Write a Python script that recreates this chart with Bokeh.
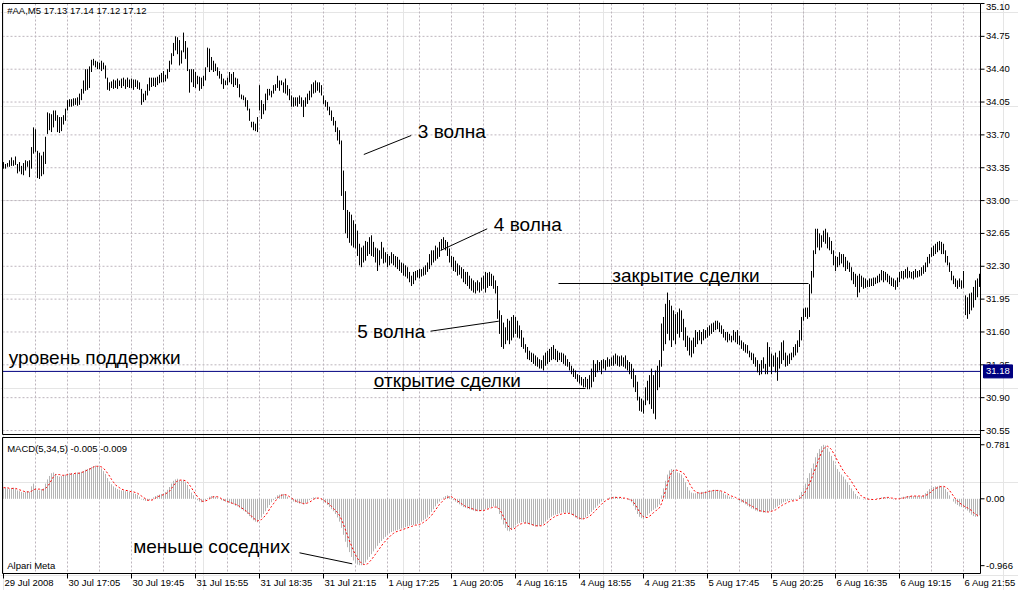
from bokeh.plotting import figure
from bokeh.models import Range1d, ColumnDataSource
from bokeh.core.properties import value
from bokeh.embed import file_html
from bokeh.resources import INLINE

# ---------------- data ----------------
HIGH = [
    33.41, 33.39, 33.40, 33.43, 33.46, 33.43, 33.47, 33.39, 33.41, 33.37,
    33.40, 33.43, 33.42, 33.43, 33.57, 33.78, 33.76, 33.53, 33.51, 33.48,
    33.52, 33.68, 33.94, 33.93, 33.92, 33.96, 33.96, 33.91, 33.89, 33.89,
    33.91, 33.98, 34.07, 34.08, 34.08, 34.09, 34.09, 34.10, 34.14, 34.19,
    34.28, 34.40, 34.40, 34.43, 34.50, 34.51, 34.49, 34.48, 34.47, 34.49,
    34.47, 34.44, 34.31, 34.26, 34.27, 34.29, 34.28, 34.30, 34.28, 34.30,
    34.31, 34.29, 34.31, 34.29, 34.30, 34.29, 34.29, 34.28, 34.26, 34.19,
    34.14, 34.17, 34.24, 34.31, 34.31, 34.31, 34.31, 34.32, 34.34, 34.36,
    34.38, 34.34, 34.40, 34.49, 34.57, 34.68, 34.75, 34.74, 34.71, 34.60,
    34.79, 34.70, 34.63, 34.40, 34.40, 34.40, 34.37, 34.33, 34.32, 34.31,
    34.33, 34.42, 34.63, 34.62, 34.53, 34.49, 34.46, 34.42, 34.38, 34.35,
    34.30, 34.28, 34.31, 34.37, 34.35, 34.37, 34.31, 34.30, 34.24, 34.13,
    34.12, 34.10, 34.07, 33.98, 33.84, 33.84, 33.82, 33.89, 34.23, 34.07,
    34.03, 34.14, 34.19, 34.19, 34.17, 34.23, 34.24, 34.33, 34.28, 34.28,
    34.26, 34.30, 34.23, 34.19, 34.12, 34.10, 34.10, 34.10, 34.12, 34.10,
    34.07, 34.10, 34.14, 34.17, 34.24, 34.26, 34.28, 34.26, 34.26, 34.23,
    34.12, 34.07, 34.05, 34.00, 33.96, 33.89, 33.85, 33.78, 33.75, 33.64,
    33.32, 33.10, 32.90, 32.88, 32.85, 32.79, 32.75, 32.68, 32.54, 32.50,
    32.52, 32.57, 32.56, 32.61, 32.63, 32.56, 32.50, 32.49, 32.47, 32.56,
    32.50, 32.45, 32.43, 32.41, 32.45, 32.43, 32.41, 32.40, 32.37, 32.34,
    32.33, 32.31, 32.29, 32.24, 32.20, 32.24, 32.25, 32.26, 32.27, 32.27,
    32.29, 32.31, 32.34, 32.43, 32.47, 32.47, 32.52, 32.50, 32.56, 32.59,
    32.61, 32.58, 32.56, 32.49, 32.41, 32.40, 32.36, 32.33, 32.31, 32.29,
    32.27, 32.24, 32.24, 32.20, 32.17, 32.15, 32.13, 32.15, 32.13, 32.18,
    32.20, 32.24, 32.23, 32.24, 32.22, 32.20, 32.15, 32.09, 31.83, 31.78,
    31.70, 31.65, 31.74, 31.72, 31.76, 31.78, 31.76, 31.72, 31.67, 31.62,
    31.54, 31.47, 31.44, 31.40, 31.38, 31.37, 31.35, 31.33, 31.31, 31.30,
    31.35, 31.38, 31.40, 31.42, 31.44, 31.46, 31.42, 31.40, 31.38, 31.38,
    31.37, 31.35, 31.31, 31.28, 31.24, 31.21, 31.19, 31.15, 31.14, 31.12,
    31.10, 31.12, 31.10, 31.14, 31.21, 31.30, 31.26, 31.30, 31.28, 31.30,
    31.31, 31.30, 31.33, 31.31, 31.33, 31.35, 31.37, 31.35, 31.34, 31.35,
    31.33, 31.35, 31.30, 31.28, 31.26, 31.21, 31.14, 31.07, 30.91, 30.89,
    30.87, 31.01, 31.08, 31.14, 31.21, 31.14, 31.19, 31.24, 31.30, 31.69,
    31.76, 31.90, 32.02, 31.94, 31.88, 31.83, 31.79, 31.81, 31.85, 31.83,
    31.74, 31.65, 31.56, 31.54, 31.51, 31.54, 31.62, 31.60, 31.62, 31.60,
    31.63, 31.62, 31.65, 31.67, 31.69, 31.70, 31.72, 31.72, 31.70, 31.67,
    31.63, 31.60, 31.60, 31.58, 31.56, 31.62, 31.60, 31.62, 31.56, 31.51,
    31.49, 31.47, 31.46, 31.40, 31.38, 31.37, 31.33, 31.30, 31.26, 31.30,
    31.33, 31.26, 31.49, 31.44, 31.37, 31.35, 31.38, 31.33, 31.40, 31.49,
    31.51, 31.38, 31.35, 31.37, 31.38, 31.44, 31.47, 31.51, 31.62, 31.76,
    31.85, 31.86, 31.86, 32.11, 32.25, 32.47, 32.70, 32.70, 32.65, 32.63,
    32.68, 32.70, 32.66, 32.61, 32.57, 32.47, 32.41, 32.40, 32.45, 32.43,
    32.43, 32.40, 32.36, 32.34, 32.29, 32.24, 32.22, 32.20, 32.22, 32.20,
    32.18, 32.17, 32.15, 32.17, 32.17, 32.18, 32.18, 32.20, 32.22, 32.26,
    32.25, 32.24, 32.22, 32.20, 32.18, 32.17, 32.15, 32.18, 32.24, 32.25,
    32.25, 32.27, 32.29, 32.25, 32.24, 32.25, 32.27, 32.25, 32.26, 32.29,
    32.31, 32.34, 32.40, 32.43, 32.50, 32.52, 32.54, 32.56, 32.57, 32.56,
    32.54, 32.47, 32.41, 32.34, 32.25, 32.20, 32.17, 32.15, 32.17, 32.15,
    32.25, 31.99, 31.97, 32.01, 32.02, 32.08, 32.15, 32.17, 32.22,
]

LOW = [
    33.34, 33.34, 33.36, 33.36, 33.37, 33.37, 33.38, 33.29, 33.31, 33.28,
    33.27, 33.32, 33.36, 33.25, 33.34, 33.50, 33.52, 33.24, 33.23, 33.26,
    33.28, 33.39, 33.71, 33.75, 33.73, 33.78, 33.85, 33.73, 33.72, 33.74,
    33.81, 33.85, 33.96, 34.00, 34.00, 34.01, 34.02, 34.01, 34.02, 34.07,
    34.14, 34.17, 34.18, 34.20, 34.37, 34.44, 34.42, 34.40, 34.40, 34.38,
    34.40, 34.30, 34.18, 34.17, 34.20, 34.19, 34.20, 34.19, 34.22, 34.20,
    34.22, 34.19, 34.21, 34.20, 34.20, 34.18, 34.21, 34.19, 34.18, 34.02,
    34.05, 34.07, 34.12, 34.17, 34.21, 34.22, 34.21, 34.23, 34.25, 34.26,
    34.26, 34.27, 34.30, 34.37, 34.45, 34.54, 34.60, 34.56, 34.44, 34.46,
    34.58, 34.51, 34.38, 34.15, 34.26, 34.21, 34.20, 34.24, 34.17, 34.19,
    34.22, 34.28, 34.42, 34.37, 34.39, 34.37, 34.38, 34.33, 34.30, 34.24,
    34.19, 34.23, 34.23, 34.26, 34.24, 34.21, 34.23, 34.20, 34.10, 34.08,
    34.07, 34.00, 33.96, 33.85, 33.78, 33.75, 33.74, 33.73, 33.96, 33.87,
    33.92, 33.96, 34.07, 34.12, 34.10, 34.14, 34.17, 34.20, 34.17, 34.23,
    34.15, 34.14, 34.12, 34.07, 34.00, 34.00, 34.01, 34.00, 34.03, 34.00,
    33.89, 34.00, 34.03, 34.07, 34.10, 34.14, 34.15, 34.17, 34.15, 34.12,
    34.03, 34.00, 33.96, 33.91, 33.85, 33.80, 33.73, 33.64, 33.60, 33.05,
    32.90, 32.65, 32.60, 32.55, 32.52, 32.50, 32.49, 32.41, 32.31, 32.29,
    32.34, 32.36, 32.41, 32.43, 32.41, 32.40, 32.34, 32.25, 32.31, 32.38,
    32.33, 32.34, 32.29, 32.31, 32.33, 32.31, 32.29, 32.27, 32.25, 32.23,
    32.20, 32.19, 32.17, 32.13, 32.09, 32.11, 32.15, 32.18, 32.17, 32.19,
    32.20, 32.21, 32.24, 32.27, 32.31, 32.34, 32.36, 32.38, 32.40, 32.47,
    32.49, 32.47, 32.41, 32.34, 32.29, 32.25, 32.24, 32.20, 32.21, 32.17,
    32.13, 32.11, 32.09, 32.06, 32.04, 32.02, 32.01, 32.04, 32.02, 32.04,
    32.06, 32.02, 32.07, 32.09, 32.09, 32.06, 32.01, 31.74, 31.58, 31.44,
    31.42, 31.47, 31.51, 31.47, 31.51, 31.54, 31.58, 31.54, 31.53, 31.44,
    31.42, 31.38, 31.31, 31.30, 31.28, 31.26, 31.24, 31.23, 31.21, 31.21,
    31.19, 31.24, 31.26, 31.28, 31.30, 31.31, 31.30, 31.28, 31.30, 31.28,
    31.26, 31.24, 31.23, 31.19, 31.15, 31.12, 31.10, 31.07, 31.05, 31.03,
    31.01, 31.01, 30.99, 30.99, 31.01, 31.07, 31.12, 31.17, 31.19, 31.15,
    31.21, 31.19, 31.23, 31.23, 31.24, 31.24, 31.26, 31.24, 31.23, 31.24,
    31.23, 31.21, 31.19, 31.15, 31.10, 31.01, 30.96, 30.87, 30.76, 30.75,
    30.73, 30.82, 30.87, 30.83, 30.78, 30.73, 30.67, 30.98, 31.01, 31.23,
    31.40, 31.47, 31.58, 31.51, 31.44, 31.51, 31.47, 31.58, 31.54, 31.60,
    31.51, 31.44, 31.40, 31.35, 31.33, 31.37, 31.44, 31.47, 31.51, 31.47,
    31.51, 31.53, 31.54, 31.56, 31.58, 31.60, 31.62, 31.63, 31.60, 31.58,
    31.54, 31.51, 31.49, 31.51, 31.49, 31.51, 31.49, 31.47, 31.46, 31.42,
    31.40, 31.38, 31.37, 31.33, 31.30, 31.26, 31.23, 31.17, 31.14, 31.15,
    31.21, 31.15, 31.15, 31.23, 31.15, 31.23, 31.17, 31.08, 31.21, 31.26,
    31.30, 31.23, 31.24, 31.26, 31.30, 31.33, 31.35, 31.38, 31.44, 31.51,
    31.72, 31.76, 31.74, 31.76, 32.01, 32.18, 32.43, 32.50, 32.47, 32.50,
    32.56, 32.54, 32.49, 32.47, 32.43, 32.31, 32.25, 32.29, 32.31, 32.33,
    32.29, 32.25, 32.27, 32.24, 32.15, 32.11, 32.08, 31.97, 32.02, 32.08,
    32.06, 32.07, 32.08, 32.08, 32.09, 32.09, 32.11, 32.12, 32.13, 32.15,
    32.13, 32.15, 32.13, 32.11, 32.09, 32.08, 32.05, 32.08, 32.13, 32.17,
    32.16, 32.18, 32.17, 32.18, 32.17, 32.16, 32.18, 32.18, 32.19, 32.20,
    32.22, 32.24, 32.29, 32.33, 32.40, 32.41, 32.43, 32.45, 32.47, 32.43,
    32.43, 32.34, 32.31, 32.24, 32.15, 32.11, 32.08, 32.06, 32.08, 32.06,
    32.07, 31.78, 31.74, 31.79, 31.83, 31.86, 31.94, 31.97, 32.08,
]

MACD_HIST = [
    0.15, 0.16, 0.15, 0.14, 0.15, 0.16, 0.14, 0.12, 0.11, 0.10,
    0.09, 0.10, 0.11, 0.10, 0.18, 0.22, 0.16, 0.13, 0.12, 0.14,
    0.15, 0.22, 0.28, 0.33, 0.37, 0.38, 0.36, 0.33, 0.32, 0.33,
    0.34, 0.35, 0.36, 0.37, 0.37, 0.36, 0.37, 0.38, 0.38, 0.39,
    0.40, 0.42, 0.43, 0.44, 0.46, 0.47, 0.48, 0.47, 0.46, 0.44,
    0.40, 0.36, 0.30, 0.25, 0.21, 0.18, 0.16, 0.14, 0.13, 0.12,
    0.12, 0.11, 0.11, 0.10, 0.09, 0.08, 0.07, 0.06, 0.03, -0.01,
    -0.02, -0.03, -0.03, -0.02, -0.01, 0.02, 0.04, 0.05, 0.06, 0.07,
    0.08, 0.10, 0.13, 0.17, 0.22, 0.26, 0.28, 0.29, 0.27, 0.26,
    0.27, 0.24, 0.20, 0.14, 0.09, 0.05, 0.01, -0.02, -0.04, -0.05,
    -0.04, -0.02, 0.01, 0.03, 0.04, 0.04, 0.03, 0.02, 0.00, -0.02,
    -0.03, -0.04, -0.05, -0.06, -0.07, -0.08, -0.10, -0.11, -0.13, -0.15,
    -0.17, -0.19, -0.22, -0.25, -0.28, -0.31, -0.33, -0.34, -0.30, -0.27,
    -0.22, -0.18, -0.13, -0.09, -0.05, -0.02, 0.02, 0.05, 0.06, 0.07,
    0.07, 0.06, 0.03, 0.00, -0.02, -0.04, -0.05, -0.06, -0.07, -0.07,
    -0.08, -0.07, -0.05, -0.02, 0.01, 0.02, 0.02, 0.01, 0.00, -0.02,
    -0.04, -0.06, -0.09, -0.12, -0.15, -0.18, -0.22, -0.27, -0.33, -0.42,
    -0.52, -0.62, -0.70, -0.77, -0.84, -0.89, -0.93, -0.95, -0.96, -0.96,
    -0.95, -0.92, -0.88, -0.84, -0.80, -0.76, -0.72, -0.68, -0.64, -0.61,
    -0.58, -0.55, -0.52, -0.50, -0.48, -0.47, -0.46, -0.45, -0.44, -0.43,
    -0.42, -0.41, -0.40, -0.39, -0.38, -0.38, -0.37, -0.36, -0.35, -0.33,
    -0.31, -0.29, -0.27, -0.23, -0.19, -0.15, -0.11, -0.07, -0.04, -0.01,
    0.02, 0.04, 0.05, 0.04, 0.01, -0.02, -0.04, -0.06, -0.08, -0.10,
    -0.12, -0.13, -0.14, -0.15, -0.16, -0.17, -0.18, -0.18, -0.18, -0.17,
    -0.16, -0.15, -0.14, -0.13, -0.12, -0.11, -0.11, -0.14, -0.22, -0.30,
    -0.37, -0.42, -0.46, -0.47, -0.45, -0.42, -0.38, -0.36, -0.35, -0.34,
    -0.34, -0.35, -0.36, -0.37, -0.38, -0.39, -0.40, -0.40, -0.39, -0.38,
    -0.36, -0.33, -0.30, -0.28, -0.26, -0.24, -0.23, -0.22, -0.21, -0.20,
    -0.20, -0.20, -0.20, -0.21, -0.23, -0.25, -0.27, -0.29, -0.30, -0.30,
    -0.29, -0.27, -0.25, -0.22, -0.19, -0.16, -0.13, -0.10, -0.07, -0.04,
    -0.02, 0.00, 0.01, 0.02, 0.03, 0.03, 0.03, 0.02, 0.02, 0.01,
    0.01, 0.00, -0.01, -0.02, -0.05, -0.10, -0.16, -0.22, -0.26, -0.28,
    -0.29, -0.27, -0.24, -0.21, -0.18, -0.16, -0.14, -0.12, -0.08, 0.05,
    0.15, 0.26, 0.35, 0.41, 0.43, 0.42, 0.40, 0.38, 0.37, 0.35,
    0.30, 0.24, 0.17, 0.12, 0.09, 0.08, 0.08, 0.09, 0.09, 0.10,
    0.10, 0.11, 0.11, 0.12, 0.12, 0.13, 0.13, 0.13, 0.12, 0.10,
    0.08, 0.06, 0.05, 0.03, 0.02, 0.01, 0.00, -0.01, -0.03, -0.05,
    -0.06, -0.08, -0.10, -0.12, -0.14, -0.15, -0.17, -0.18, -0.19, -0.19,
    -0.20, -0.20, -0.19, -0.18, -0.17, -0.15, -0.13, -0.11, -0.09, -0.07,
    -0.05, -0.04, -0.03, -0.02, -0.02, -0.02, -0.01, 0.00, 0.05, 0.10,
    0.16, 0.22, 0.30, 0.37, 0.44, 0.51, 0.60, 0.66, 0.72, 0.76,
    0.78, 0.77, 0.73, 0.68, 0.62, 0.55, 0.49, 0.43, 0.39, 0.35,
    0.32, 0.28, 0.24, 0.20, 0.15, 0.11, 0.07, 0.04, 0.02, 0.00,
    -0.01, -0.01, -0.01, -0.01, -0.01, 0.00, 0.00, 0.01, 0.01, 0.02,
    0.02, 0.02, 0.02, 0.01, 0.00, -0.01, -0.01, 0.00, 0.01, 0.02,
    0.03, 0.03, 0.04, 0.04, 0.04, 0.04, 0.04, 0.04, 0.03, 0.04,
    0.05, 0.08, 0.11, 0.14, 0.16, 0.17, 0.18, 0.18, 0.19, 0.18,
    0.17, 0.14, 0.10, 0.05, 0.00, -0.04, -0.07, -0.09, -0.11, -0.12,
    -0.13, -0.15, -0.17, -0.20, -0.23, -0.25, -0.26, -0.26, -0.24,
]

MACD_SIGNAL = [
    0.16, 0.16, 0.16, 0.15, 0.15, 0.15, 0.15, 0.14, 0.13, 0.12,
    0.11, 0.10, 0.10, 0.10, 0.11, 0.13, 0.14, 0.14, 0.14, 0.13,
    0.13, 0.15, 0.18, 0.22, 0.27, 0.32, 0.35, 0.35, 0.35, 0.34,
    0.34, 0.34, 0.35, 0.35, 0.36, 0.36, 0.37, 0.37, 0.37, 0.38,
    0.39, 0.40, 0.42, 0.43, 0.44, 0.46, 0.47, 0.47, 0.47, 0.46,
    0.44, 0.41, 0.37, 0.33, 0.28, 0.24, 0.20, 0.18, 0.16, 0.14,
    0.13, 0.12, 0.12, 0.11, 0.10, 0.10, 0.09, 0.08, 0.06, 0.04,
    0.02, 0.00, -0.02, -0.02, -0.02, -0.01, 0.01, 0.03, 0.04, 0.05,
    0.06, 0.07, 0.09, 0.11, 0.15, 0.19, 0.23, 0.26, 0.27, 0.27,
    0.27, 0.26, 0.24, 0.20, 0.16, 0.11, 0.07, 0.03, 0.00, -0.03,
    -0.04, -0.03, -0.02, 0.00, 0.02, 0.03, 0.03, 0.03, 0.02, 0.00,
    -0.01, -0.03, -0.04, -0.05, -0.06, -0.07, -0.08, -0.09, -0.11, -0.13,
    -0.15, -0.17, -0.19, -0.22, -0.25, -0.28, -0.30, -0.32, -0.31, -0.30,
    -0.27, -0.24, -0.20, -0.15, -0.11, -0.07, -0.03, 0.01, 0.04, 0.05,
    0.06, 0.06, 0.05, 0.03, 0.01, -0.01, -0.03, -0.04, -0.05, -0.06,
    -0.07, -0.07, -0.06, -0.05, -0.03, -0.01, 0.01, 0.01, 0.01, 0.00,
    -0.02, -0.04, -0.06, -0.08, -0.11, -0.14, -0.17, -0.20, -0.24, -0.30,
    -0.37, -0.45, -0.53, -0.61, -0.68, -0.75, -0.81, -0.86, -0.90, -0.93,
    -0.95, -0.95, -0.94, -0.91, -0.88, -0.84, -0.80, -0.76, -0.72, -0.68,
    -0.64, -0.61, -0.58, -0.55, -0.52, -0.50, -0.48, -0.47, -0.46, -0.45,
    -0.44, -0.43, -0.42, -0.41, -0.40, -0.39, -0.38, -0.38, -0.37, -0.36,
    -0.34, -0.32, -0.30, -0.27, -0.24, -0.20, -0.16, -0.12, -0.08, -0.05,
    -0.02, 0.01, 0.02, 0.03, 0.03, 0.01, -0.01, -0.03, -0.05, -0.07,
    -0.09, -0.11, -0.12, -0.13, -0.14, -0.15, -0.16, -0.17, -0.17, -0.17,
    -0.17, -0.16, -0.15, -0.14, -0.13, -0.12, -0.12, -0.12, -0.15, -0.20,
    -0.26, -0.32, -0.38, -0.42, -0.44, -0.44, -0.42, -0.39, -0.37, -0.36,
    -0.35, -0.35, -0.35, -0.36, -0.37, -0.38, -0.39, -0.39, -0.39, -0.39,
    -0.38, -0.36, -0.34, -0.31, -0.29, -0.27, -0.25, -0.24, -0.23, -0.22,
    -0.21, -0.21, -0.21, -0.21, -0.22, -0.23, -0.25, -0.27, -0.28, -0.29,
    -0.29, -0.28, -0.27, -0.25, -0.23, -0.20, -0.17, -0.14, -0.11, -0.08,
    -0.05, -0.03, -0.01, 0.00, 0.01, 0.02, 0.02, 0.02, 0.02, 0.02,
    0.01, 0.01, 0.00, -0.01, -0.02, -0.05, -0.09, -0.14, -0.19, -0.23,
    -0.26, -0.27, -0.27, -0.25, -0.23, -0.20, -0.18, -0.15, -0.13, -0.07,
    0.02, 0.12, 0.22, 0.31, 0.38, 0.41, 0.42, 0.41, 0.40, 0.39,
    0.37, 0.33, 0.28, 0.22, 0.17, 0.13, 0.10, 0.09, 0.08, 0.08,
    0.09, 0.09, 0.10, 0.11, 0.11, 0.12, 0.12, 0.12, 0.12, 0.11,
    0.10, 0.09, 0.07, 0.05, 0.04, 0.03, 0.02, 0.00, -0.01, -0.02,
    -0.04, -0.05, -0.07, -0.09, -0.10, -0.12, -0.14, -0.15, -0.17, -0.18,
    -0.18, -0.19, -0.19, -0.19, -0.18, -0.17, -0.16, -0.14, -0.12, -0.10,
    -0.08, -0.07, -0.05, -0.04, -0.03, -0.03, -0.02, -0.02, 0.00, 0.03,
    0.06, 0.11, 0.16, 0.22, 0.29, 0.37, 0.44, 0.52, 0.60, 0.67,
    0.72, 0.75, 0.76, 0.74, 0.71, 0.66, 0.61, 0.55, 0.50, 0.45,
    0.40, 0.36, 0.33, 0.29, 0.25, 0.20, 0.16, 0.11, 0.07, 0.04,
    0.02, 0.01, 0.00, -0.01, -0.01, -0.01, -0.01, 0.00, 0.00, 0.01,
    0.01, 0.02, 0.02, 0.02, 0.01, 0.01, 0.00, 0.00, 0.00, 0.01,
    0.01, 0.02, 0.03, 0.03, 0.04, 0.04, 0.04, 0.04, 0.04, 0.04,
    0.04, 0.05, 0.06, 0.08, 0.11, 0.13, 0.15, 0.16, 0.17, 0.18,
    0.18, 0.17, 0.15, 0.12, 0.08, 0.04, 0.00, -0.03, -0.06, -0.08,
    -0.10, -0.12, -0.13, -0.15, -0.17, -0.20, -0.22, -0.24, -0.25,
]

PRICE_TICKS = [35.10, 34.75, 34.40, 34.05, 33.70, 33.35, 33.00,
               32.65, 32.30, 31.95, 31.60, 31.25, 30.90, 30.55]
MACD_TICKS = [0.781, 0.0, -0.966]
MACD_TICK_LABELS = ["0.781", "0.00", "-0.966"]
TIME_LABELS = ["29 Jul 2008", "30 Jul 17:05", "30 Jul 19:45", "31 Jul 15:55",
               "31 Jul 18:35", "31 Jul 21:15", "1 Aug 17:25", "1 Aug 20:05",
               "4 Aug 16:15", "4 Aug 18:55", "4 Aug 21:35", "5 Aug 17:45",
               "5 Aug 20:25", "6 Aug 16:35", "6 Aug 19:15", "6 Aug 21:55"]
BARS_PER_LABEL = 32
BARS_PER_GRID = 16
SUPPORT_LEVEL = 31.18
HEADER = "#AA,M5  17.13 17.14 17.12 17.12"
MACD_HEADER = "MACD(5,34,5) -0.005 -0.009"

# ---------------- layout / styling (pixels) ----------------
W, H = 1018, 590
FONT = "Liberation Sans"
SMALL_PX, BIG_PX = 9.5, 19
SMALL, BIG = "%gpx" % SMALL_PX, "%gpx" % BIG_PX
GRID_C = "#bdb5bd"
NAVY = "#000080"
HIST_C = "#b4b4b4"

PX_PER_BAR = 2.0
BAR0_X = 3.0                        # pixel x of bar 0
PRICE_Y0, PRICE_SCALE = 3.0, 93.85  # y pixel of 35.10, px per dollar
MACD_Y0, MACD_SCALE = 498.3, 69.2   # y pixel of 0, px per unit
LEFT, AXIS_X = 2, 980
MAIN_TOP, MAIN_BOT = 3, 434
MACD_TOP, MACD_BOT = 437, 573
BASE_FIX = 0.3                      # renderer baseline correction (em)

n = len(HIGH)
idx = list(range(n))
time_ticks = [k * BARS_PER_LABEL for k in range(len(TIME_LABELS))]
vgrid = list(range(BARS_PER_GRID, n, BARS_PER_GRID))

x_start = -BAR0_X / PX_PER_BAR
x_end = x_start + W / PX_PER_BAR
p_top = PRICE_TICKS[0] + PRICE_Y0 / PRICE_SCALE
p_bot = PRICE_TICKS[0] - (H - PRICE_Y0) / PRICE_SCALE
m_top = MACD_Y0 / MACD_SCALE
m_bot = (MACD_Y0 - H) / MACD_SCALE

p = figure(frame_width=W, frame_height=H,
           x_range=Range1d(x_start, x_end), y_range=Range1d(p_bot, p_top),
           output_backend="svg", toolbar_location=None,
           x_axis_location=None, y_axis_location=None,
           min_border_left=0, min_border_right=0, min_border_top=0,
           min_border_bottom=0, outline_line_color=None,
           background_fill_color="white", border_fill_color="white")
p.extra_x_ranges = {"px": Range1d(0, W)}
p.extra_y_ranges = {"px": Range1d(H, 0), "macd": Range1d(m_bot, m_top)}

src = ColumnDataSource(dict(x=idx, hi=HIGH, lo=LOW, hist=MACD_HIST,
                            sig=MACD_SIGNAL, zero=[0.0] * n))

# grid: horizontal at price ticks, vertical every 16 bars in both panels
p.segment(x0=[LEFT] * len(PRICE_TICKS), y0=PRICE_TICKS,
          x1=[AXIS_X] * len(PRICE_TICKS), y1=PRICE_TICKS,
          x_range_name="px", line_color=GRID_C, line_width=1, line_dash="2 2")
for (t0, t1) in [(MAIN_TOP, MAIN_BOT), (MACD_TOP, MACD_BOT)]:
    p.segment(x0=vgrid, y0=[t0] * len(vgrid), x1=vgrid, y1=[t1] * len(vgrid),
              y_range_name="px", line_color=GRID_C, line_width=1,
              line_dash="2 2")

# support level
p.segment(x0=[LEFT], y0=[SUPPORT_LEVEL], x1=[AXIS_X], y1=[SUPPORT_LEVEL],
          x_range_name="px", line_color=NAVY, line_width=1)

# price bars
p.segment(x0="x", y0="lo", x1="x", y1="hi", source=src,
          line_color="black", line_width=1)

# MACD histogram + signal
p.segment(x0="x", y0="zero", x1="x", y1="hist", source=src,
          y_range_name="macd", line_color=HIST_C, line_width=1)
p.line("x", "sig", source=src, y_range_name="macd", line_color="red",
       line_width=1, line_dash="2 2")

# frames / axis lines
FRAME = [
    (LEFT, MAIN_TOP, AXIS_X, MAIN_TOP), (LEFT, MAIN_BOT, AXIS_X, MAIN_BOT),
    (LEFT, MAIN_TOP, LEFT, MAIN_BOT),
    (LEFT, MACD_TOP, AXIS_X, MACD_TOP), (LEFT, MACD_BOT, AXIS_X, MACD_BOT),
    (LEFT, MACD_TOP, LEFT, MACD_BOT),
    (AXIS_X, MAIN_TOP, AXIS_X, MACD_BOT),
]
p.segment(x0=[f[0] for f in FRAME], y0=[f[1] for f in FRAME],
          x1=[f[2] for f in FRAME], y1=[f[3] for f in FRAME],
          x_range_name="px", y_range_name="px", line_color="black",
          line_width=1)

# price axis ticks + labels
p.segment(x0=[AXIS_X] * len(PRICE_TICKS), y0=PRICE_TICKS,
          x1=[AXIS_X + 4] * len(PRICE_TICKS), y1=PRICE_TICKS,
          x_range_name="px", line_color="black", line_width=1)
top_lbl = PRICE_TICKS[0] - 3.5 / PRICE_SCALE   # keep the top label inside
price_lbl_y = [min(v, top_lbl) for v in PRICE_TICKS]
p.text(x=[AXIS_X + 5.5] * len(PRICE_TICKS), y=price_lbl_y,
       text=["%.2f" % v for v in PRICE_TICKS], x_range_name="px",
       text_font=value(FONT), text_font_size=SMALL, text_color="black",
       text_align="left", text_baseline="middle")

# MACD axis ticks + labels
p.segment(x0=[AXIS_X] * len(MACD_TICKS), y0=MACD_TICKS,
          x1=[AXIS_X + 4] * len(MACD_TICKS), y1=MACD_TICKS,
          x_range_name="px", y_range_name="macd", line_color="black",
          line_width=1)
p.text(x=[AXIS_X + 5.5] * len(MACD_TICKS), y=MACD_TICKS,
       text=MACD_TICK_LABELS, x_range_name="px", y_range_name="macd",
       text_font=value(FONT), text_font_size=SMALL, text_color="black",
       text_align="left", text_baseline="middle")

# time axis ticks + labels
p.segment(x0=time_ticks, y0=[MACD_BOT] * len(time_ticks),
          x1=time_ticks, y1=[MACD_BOT + 5] * len(time_ticks),
          y_range_name="px", line_color="black", line_width=1)
p.text(x=time_ticks, y=[585.0 - BASE_FIX * SMALL_PX] * len(time_ticks),
       text=TIME_LABELS, y_range_name="px", x_offset=1,
       text_font=value(FONT), text_font_size=SMALL, text_color="black",
       text_align="left", text_baseline="alphabetic")

# support price tag
tag_h = 6.5 / PRICE_SCALE
p.quad(left=[AXIS_X + 3], right=[AXIS_X + 32],
       bottom=[SUPPORT_LEVEL - tag_h], top=[SUPPORT_LEVEL + tag_h],
       x_range_name="px", fill_color=NAVY, line_color=NAVY)
p.text(x=[AXIS_X + 5.5], y=[SUPPORT_LEVEL], text=["%.2f" % SUPPORT_LEVEL],
       x_range_name="px", text_font=value(FONT), text_font_size=SMALL,
       text_color="white", text_align="left", text_baseline="middle")

# annotation texts (pixel positions: left x, baseline y)
SMALL_TEXTS = [
    (6.7, 13.3, HEADER),
    (6.7, 450.5, MACD_HEADER),
    (6.7, 568.0, "Alpari Meta"),
]
BIG_TEXTS = [
    (417.3, 136.5, "3 волна"),
    (493.3, 230.0, "4 волна"),
    (356.7, 336.5, "5 волна"),
    (611.7, 280.5, "закрытие сделки"),
    (373.3, 386.0, "открытие сделки"),
    (8.3, 363.0, "уровень поддержки"),
    (132.7, 551.7, "меньше соседних"),
]
for texts, size, fpx in [(SMALL_TEXTS, SMALL, SMALL_PX), (BIG_TEXTS, BIG, BIG_PX)]:
    p.text(x=[t[0] for t in texts], y=[t[1] - BASE_FIX * fpx for t in texts],
           text=[t[2] for t in texts], x_range_name="px", y_range_name="px",
           text_font=value(FONT), text_font_size=size, text_color="black",
           text_align="left", text_baseline="alphabetic")

LEADERS = [
    (363.3, 154.0, 410.7, 135.0),
    (440.0, 250.0, 486.7, 228.3),
    (430.0, 330.7, 498.3, 320.7),
    (558.0, 283.0, 808.0, 283.0),
    (373.0, 388.0, 585.0, 388.0),
    (299.0, 552.3, 351.7, 563.3),
]
p.segment(x0=[l[0] for l in LEADERS], y0=[l[1] for l in LEADERS],
          x1=[l[2] for l in LEADERS], y1=[l[3] for l in LEADERS],
          x_range_name="px", y_range_name="px", line_color="black",
          line_width=1)

open("out.html", "w", encoding="utf-8").write(file_html(p, INLINE, title="AA M5"))
